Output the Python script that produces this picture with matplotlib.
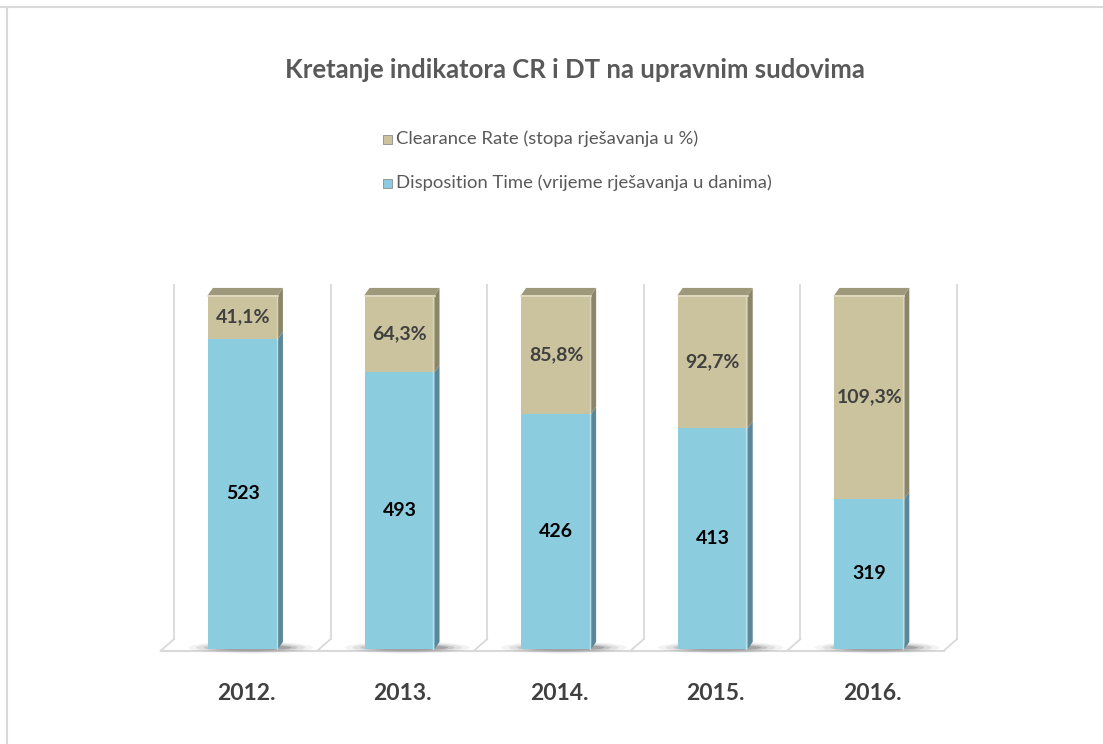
import numpy as np
import matplotlib.pyplot as plt
from matplotlib.patches import Polygon, Ellipse, Rectangle
from matplotlib.lines import Line2D

plt.rcParams['font.family'] = ['Lato', 'DejaVu Sans']

years = ['2012.', '2013.', '2014.', '2015.', '2016.']
dt_days = [523, 493, 426, 413, 319]            # Disposition Time labels
cr_pct = [41.1, 64.3, 85.8, 92.7, 109.3]       # Clearance Rate labels
dt_share = [87.6, 78.2, 66.4, 62.4, 42.4]      # share of each bar drawn as DT (%)
cr_share = [100 - s for s in dt_share]

blue, blue_side = '#8BCCDE', '#5A8898'
tan, tan_side, tan_top = '#CAC39D', '#8B8569', '#9F997B'
grid_c = '#D9D9D9'

W, H = 1103, 744
fig = plt.figure(figsize=(W / 100, H / 100), dpi=100)
ax = fig.add_axes([0, 0, 1, 1])

# pixel scale of the plot: one category = 156.6 px, 1 % = 3.54 px
px_x, px_y = 156.6, 3.54
x_left = 174            # pixel of the back wall left edge (x = -0.5)
y_base = H - 649        # pixel (from bottom) of y = 0
ax.set_xlim(-0.5 - x_left / px_x, -0.5 + (W - x_left) / px_x)
ax.set_ylim(-y_base / px_y, (H - y_base) / px_y)
ax.axis('off')

# back wall gridlines and floor
n = len(years)
floor_back, floor_front = 2.8, -0.5
shift = 0.085
for k in range(n + 1):
    xk = -0.5 + k
    ax.plot([xk, xk], [floor_back, 102.8], color=grid_c, lw=1.3, zorder=1)
    ax.plot([xk, xk - shift], [floor_back, floor_front], color=grid_c, lw=1.3, zorder=1)
ax.plot([-0.5 - shift, n - 0.5 - shift], [floor_front, floor_front], color=grid_c, lw=1.5, zorder=1)

x = np.arange(n) - 0.06
w = 0.447
dx, dy = 0.032, 2.0

# soft shadows at the base of the bars
for xi in x:
    for ew, eh, a in [(0.80, 3.4, 0.06), (0.70, 2.8, 0.10), (0.60, 2.2, 0.16), (0.52, 1.6, 0.25)]:
        ax.add_patch(Ellipse((xi + 0.05, 0.4), ew, eh, color='#404040', alpha=a, lw=0, zorder=2))

ax.bar(x, dt_share, width=w, color=blue, zorder=3)
ax.bar(x, cr_share, width=w, bottom=dt_share, color=tan, zorder=3)

for xi, d in zip(x, dt_share):
    x1 = xi + w / 2
    x0 = xi - w / 2
    # side faces
    ax.add_patch(Polygon([(x1, 0), (x1 + dx, dy), (x1 + dx, d + dy), (x1, d)],
                         closed=True, color=blue_side, lw=0, zorder=3))
    ax.add_patch(Polygon([(x1, d), (x1 + dx, d + dy), (x1 + dx, 100 + dy), (x1, 100)],
                         closed=True, color=tan_side, lw=0, zorder=3))
    # top face
    ax.add_patch(Polygon([(x0, 100), (x1, 100), (x1 + dx, 100 + dy), (x0 + dx, 100 + dy)],
                         closed=True, color=tan_top, lw=0, zorder=3))
    # bevel highlights
    ax.plot([x0, x1], [99.6, 99.6], color='#E2DDC4', lw=1.2, zorder=4)
    ax.plot([x1 - 0.008, x1 - 0.008], [d, 99.6], color='#DAD4B8', lw=1.0, zorder=4)
    ax.plot([x1 - 0.008, x1 - 0.008], [0, d], color='#B5E0EC', lw=1.0, zorder=4)

# data labels
for xi, d, c, v in zip(x, dt_share, cr_share, dt_days):
    ax.text(xi, d / 2, str(v), ha='center', va='center', fontsize=14,
            fontweight='bold', color='black', zorder=5)
for xi, d, c, v in zip(x, dt_share, cr_share, cr_pct):
    ax.text(xi, d + c / 2, f'{v:.1f}'.replace('.', ',') + '%', ha='center', va='center',
            fontsize=14, fontweight='bold', color='#404040', zorder=5)

# category labels
for xi, yl in zip(x, years):
    ax.text(xi + 0.02, -12.5, yl, ha='center', va='center', fontsize=16.5,
            fontweight='bold', color='#404040')

# title
fig.text(575 / W, 1 - 70 / H, 'Kretanje indikatora CR i DT na upravnim sudovima',
         ha='center', va='center', fontsize=18.5, fontweight='bold', color='#595959')

# legend
for yy, col, lab in [(139, tan, 'Clearance Rate (stopa rješavanja u %)'),
                     (183, blue, 'Disposition Time (vrijeme rješavanja u danima)')]:
    fig.add_artist(Rectangle((383 / W, 1 - (yy + 4.5) / H), 9 / W, 9 / H,
                             transform=fig.transFigure, facecolor=col,
                             edgecolor='#8C8C8C', lw=0.6))
    fig.text(396 / W, 1 - yy / H, lab, ha='left', va='center', fontsize=13.3,
             color='#595959')

# chart frame
fig.add_artist(Line2D([0, 1], [1 - 7 / H, 1 - 7 / H], transform=fig.transFigure,
                      color=grid_c, lw=1.5))
fig.add_artist(Line2D([7 / W, 7 / W], [0, 1 - 7 / H], transform=fig.transFigure,
                      color=grid_c, lw=1.5))

fig.savefig('out.png', dpi=100)
